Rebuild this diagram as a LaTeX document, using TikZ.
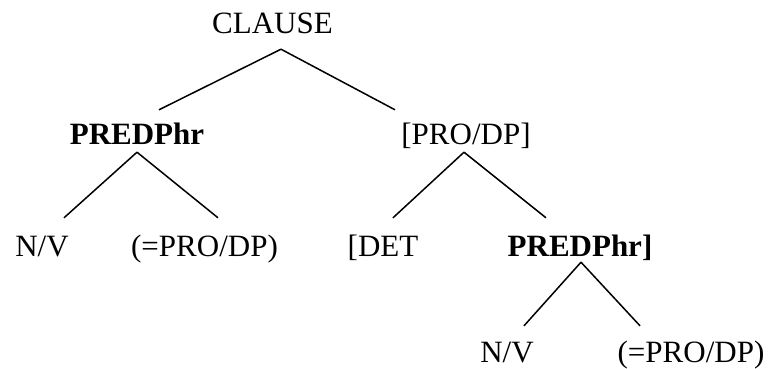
\documentclass[tikz,border=0pt]{standalone}
\usepackage{fontspec}
\setmainfont{Liberation Serif}
\usepackage{tikz}
\tikzset{
	word/.style={inner sep=0pt, anchor=base, text height=22pt, text depth=6pt, font=\fontsize{31}{37}\selectfont},
	branch/.style={line width=1.5pt}
}

\begin{document}
\begin{tikzpicture}[x=1pt, y=-1pt]
			%%%%% START %%%%%
			
			\useasboundingbox (0, 0) rectangle (768, 369);
			
			\node[word] (clause) at (272.5, 34) {CLAUSE};
			
			\node[word] (predA) at (137, 144) {\textbf{PREDPhr}};
			\node[word] (prodp) at (466, 144) {[PRO/DP]};
			
			\node[word] (nvA) at (42, 256) {N/V};
			\node[word] (propA) at (204.5, 256) {(=PRO/DP)};
			\node[word] (det) at (383, 256) {[DET};
			\node[word] (predB) at (580, 256) {\textbf{PREDPhr]}};
			
			\node[word] (nvB) at (507, 362) {N/V};
			\node[word] (propB) at (691, 362) {(=PRO/DP)};
			
			\draw[branch] ([xshift=8.5pt, yshift=-9pt]clause.south) -- ([xshift=22pt, yshift=12pt]predA.north);
			\draw[branch] ([xshift=8.5pt, yshift=-9pt]clause.south) -- ([xshift=-71pt, yshift=12pt]prodp.north);
			
			\draw[branch] ([yshift=-2pt]predA.south) -- ([xshift=22pt, yshift=16pt]nvA.north);
			\draw[branch] ([yshift=-2pt]predA.south) -- ([xshift=13.5pt, yshift=16pt]propA.north);
			
			\draw[branch] ([xshift=-2pt, yshift=-2pt]prodp.south) -- ([xshift=10pt, yshift=16pt]det.north);
			\draw[branch] ([xshift=-2pt, yshift=-2pt]prodp.south) -- ([xshift=-34pt, yshift=16pt]predB.north);
			
			\draw[branch] ([xshift=1pt]predB.south) -- ([xshift=17pt, yshift=14pt]nvB.north);
			\draw[branch] ([xshift=1pt]predB.south) -- ([xshift=-51pt, yshift=14pt]propB.north);
			
			%%%%% END %%%%%
\end{tikzpicture}
\end{document}
